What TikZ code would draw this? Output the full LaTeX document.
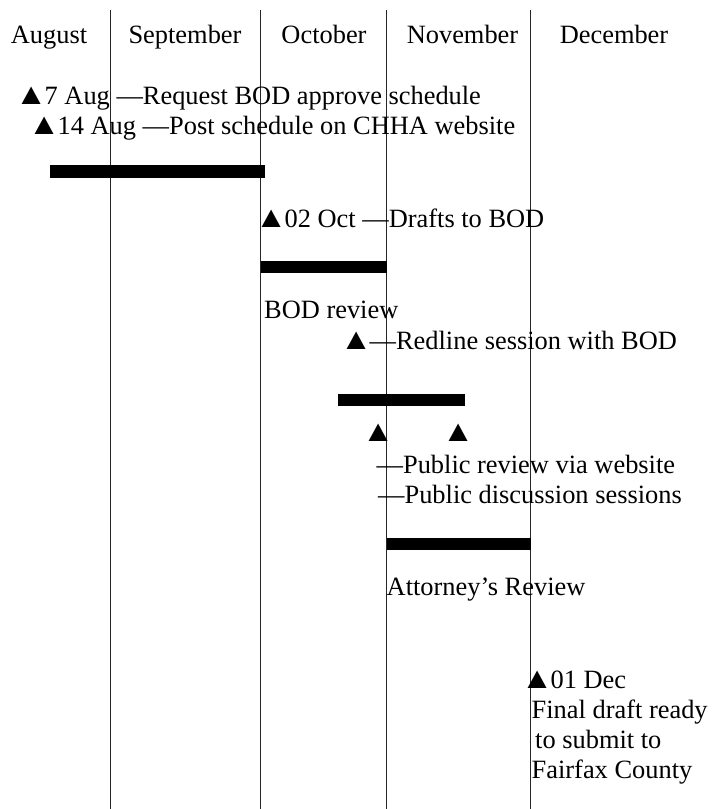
\documentclass[tikz,border=0pt]{standalone}
\usepackage{graphicx}
\usepackage{fontspec}
\setmainfont{Liberation Serif}

% milestone mark: the glyph cut to its ink and sized as in the chart
\newcommand\tri{%
	\resizebox{19pt}{17.5pt}{%
		\hspace{-\XeTeXglyphbounds1 \XeTeXcharglyph"25B2}%
		▲%
		\hspace{-\XeTeXglyphbounds3 \XeTeXcharglyph"25B2}}%
	\hspace{4pt}}

\begin{document}
\begin{tikzpicture}[x=1pt,y=-1pt,
	ml/.style = {% month labels
		anchor=base, inner sep=0pt,},
	ev/.style = {% event texts
		anchor=base west, inner sep=0pt,},
	ms/.style = {% month separators
		line width=0.9pt, draw=black!85,},
	bar/.style = {% task bars
		fill=black,},
	]
	\fontsize{26.4}{30}\selectfont
	\useasboundingbox (0,0) rectangle (713,809);

	% month separators
	\foreach \x in {110.5,260.5,386.5,530.5}
		\draw[ms] (\x,9.5) -- (\x,809);

	% month labels
	\node[ml] (aug) at (49,43) {August};
	\node[ml] (sep) at (185,43) {September};
	\node[ml] (oct) at (324,43) {October};
	\node[ml] (nov) at (462.5,43) {November};
	\node[ml] (dec) at (614,43) {December};

	% bars
	\fill[bar] (50,165) rectangle (265,178);
	\fill[bar] (260.5,261) rectangle (386.5,273);
	\fill[bar] (338,394) rectangle (465,406);
	\fill[bar] (386.5,538) rectangle (530.5,550);

	% events
	\node[ev] (req) at (21.5,104) {\tri 7 Aug —Request BOD approve schedule};
	\node[ev] (post) at (34.5,134) {\tri 14 Aug —Post schedule on CHHA website};
	\node[ev] (drafts) at (261.5,227) {\tri 02 Oct —Drafts to BOD};
	\node[ev] (bodrev) at (264,318) {BOD review};
	\node[ev] (redline) at (346.5,349) {\tri—Redline session with BOD};
	\node[ev] (pubA) at (368.5,441) {\tri};
	\node[ev] (pubB) at (448.5,441) {\tri};
	\node[ev] (website) at (376.5,473) {—Public review via website};
	\node[ev] (discuss) at (378,503) {—Public discussion sessions};
	\node[ev] (attorney) at (386.5,595) {Attorney’s Review};
	\node[ev] (final) at (527.5,688) {\tri 01 Dec};
	\node[ev] (final2) at (531.5,718) {Final draft ready};
	\node[ev] (final3) at (535,748) {to submit to};
	\node[ev] (final4) at (531.5,778) {Fairfax County};

\end{tikzpicture}
\end{document}
